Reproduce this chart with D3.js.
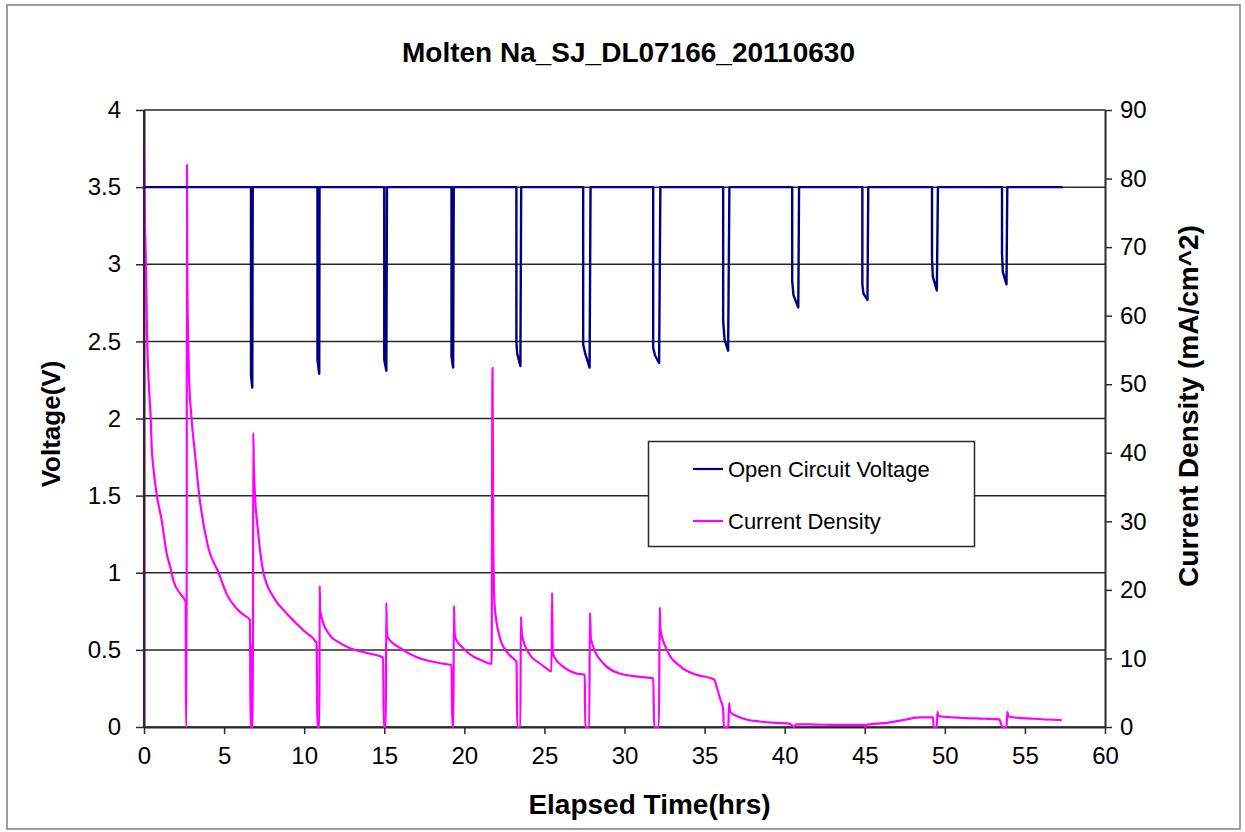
<!DOCTYPE html>
<html>
<head>
<meta charset="utf-8">
<script src="https://cdn.jsdelivr.net/npm/d3@7"></script>
<style>
  html, body { margin: 0; padding: 0; background: #fff; }
  svg { display: block; }
  text { font-family: "Liberation Sans", Arial, sans-serif; fill: #000; }
</style>
</head>
<body>
<svg id="chart" width="1245" height="832"></svg>
<script>
// ---------- DATA ----------
const chartTitle = "Molten Na_SJ_DL07166_20110630";
const xTitle = "Elapsed Time(hrs)";
const yLeftTitle = "Voltage(V)";
const yRightTitle = "Current Density (mA/cm^2)";
const seriesNames = ["Open Circuit Voltage", "Current Density"];

const xTicks = [0, 5, 10, 15, 20, 25, 30, 35, 40, 45, 50, 55, 60];
const yLeftTicks = [0, 0.5, 1, 1.5, 2, 2.5, 3, 3.5, 4];
const yRightTicks = [0, 10, 20, 30, 40, 50, 60, 70, 80, 90];

// Open circuit voltage (V) vs elapsed time (hrs)
const voltageTime = [
  0, 6.68, 6.68, 6.76, 6.79,
  10.83, 10.83, 10.94, 10.96,
  15.0, 15.0, 15.13, 15.17,
  19.2, 19.2, 19.3, 19.34,
  23.25, 23.25, 23.3, 23.5, 23.55,
  27.42, 27.42, 27.55, 27.82, 27.88,
  31.79, 31.79, 31.9, 32.16, 32.24,
  36.16, 36.16, 36.25, 36.47, 36.55,
  40.47, 40.47, 40.55, 40.85, 40.9,
  44.85, 44.85, 44.92, 45.17, 45.22,
  49.2, 49.2, 49.25, 49.5, 49.57,
  53.57, 53.57, 53.62, 53.85, 53.9,
  57.35
];
const voltageValue = [
  3.5, 3.5, 2.28, 2.2, 3.5,
  3.5, 2.38, 2.29, 3.5,
  3.5, 2.38, 2.31, 3.5,
  3.5, 2.40, 2.33, 3.5,
  3.5, 2.50, 2.42, 2.34, 3.5,
  3.5, 2.48, 2.42, 2.33, 3.5,
  3.5, 2.46, 2.41, 2.36, 3.5,
  3.5, 2.63, 2.51, 2.44, 3.5,
  3.5, 2.89, 2.80, 2.72, 3.5,
  3.5, 2.87, 2.81, 2.77, 3.5,
  3.5, 3.03, 2.92, 2.83, 3.5,
  3.5, 3.07, 2.95, 2.87, 3.5,
  3.5
];

// Current density (mA/cm^2) vs elapsed time (hrs)
const currentTime = [
  0, 0, 0.05, 0.12, 0.2, 0.3, 0.42, 0.48, 0.6, 0.8, 1.1, 1.41, 1.72, 1.83, 2.25, 2.56, 2.6,
  2.62, 2.66, 2.68, 2.70, 2.76, 2.82, 2.97, 3.2, 3.45, 4.0, 4.64, 5.2, 5.78, 6.2, 6.62,
  6.65, 6.72, 6.74, 6.76, 6.8, 6.82, 6.86, 6.93, 7.1, 7.45, 8.07, 8.9, 9.95, 10.78,
  10.82, 10.95, 10.97, 11.0, 11.1, 11.6, 12.2, 12.86, 13.9, 14.93,
  14.97, 15.1, 15.13, 15.16, 15.22, 16.0, 17.0, 18.5, 19.2,
  19.25, 19.32, 19.35, 19.4, 19.5, 19.93, 20.55, 21.1, 21.7,
  21.76, 21.8, 21.85, 21.9, 22.2, 22.64, 23.0, 23.26,
  23.3, 23.5, 23.53, 23.6, 24.1, 24.7, 25.1, 25.44,
  25.48, 25.52, 25.6, 26.17, 27.0, 27.52,
  27.55, 27.8, 27.84, 27.9, 28.05, 28.67, 29.7, 30.96, 31.8,
  31.85, 32.15, 32.2, 32.25, 32.6, 33.5, 34.5, 35.4, 35.6, 35.8, 36.0, 36.16,
  36.2, 36.48, 36.53, 36.6, 37.0, 37.6, 38.45, 39.5, 40.3,
  40.6, 40.7, 42.0, 43.5, 45.0,
  45.05, 45.15, 46.35, 47.0, 47.6, 48.4, 49.26,
  49.3, 49.5, 49.54, 49.6, 50.5, 51.3, 52.5, 53.4,
  53.6, 53.85, 53.9, 54.0, 55.5, 57.3
];
const currentValue = [
  0, 85, 75, 67.5, 56.3, 50, 45, 41, 37.5, 33.8, 30.2, 25.4, 22.6, 21.4, 19.5, 18.5, 18.3,
  0, 0, 82, 67.5, 56.3, 50.6, 45, 39.5, 33.8, 26.3, 22.6, 19.2, 17.3, 16.4, 15.6,
  0, 0, 12, 0, 0, 42.9, 38, 33.8, 29, 22.6, 19, 16.6, 14.1, 12.2,
  0, 0, 20.6, 17, 15.9, 13.4, 12.3, 11.5, 10.8, 10.1,
  0, 0, 18.1, 14, 13.1, 11.5, 10.2, 9.3, 9.0,
  0, 0, 17.7, 13.5, 12.7, 11.5, 10.3, 9.7, 9.2,
  52.4, 30, 20.3, 17.5, 13.2, 11.0, 10.1, 9.5,
  0, 0, 16.1, 13.4, 10.5, 9.3, 8.6, 8.1,
  19.6, 11, 10.3, 8.8, 7.8, 7.6,
  0, 0, 16.7, 13, 11.7, 9.3, 7.8, 7.3, 7.1,
  0, 0, 17.5, 14.1, 11.5, 8.8, 7.6, 7.1, 6.9, 5.5, 3.9, 2.7,
  0, 0, 3.5, 2.2, 1.6, 1.1, 0.8, 0.6, 0.5,
  0, 0.4, 0.35, 0.3, 0.3,
  0, 0.35, 0.6, 0.85, 1.1, 1.4, 1.4,
  0, 0, 2.2, 1.6, 1.4, 1.3, 1.2, 1.1,
  0, 0, 2.2, 1.5, 1.2, 1.0
];

const seriesColors = ["#000080", "#FF00FF"];

// ---------- CHART ----------
const svg = d3.select("#chart");
const plot = { left: 144, right: 1105, top: 110, bottom: 727 };

const x = d3.scaleLinear().domain([0, 60]).range([plot.left, plot.right]);
const yL = d3.scaleLinear().domain([0, 4]).range([plot.bottom, plot.top]);
const yR = d3.scaleLinear().domain([0, 90]).range([plot.bottom, plot.top]);

// outer border
svg.append("rect").attr("x", 7).attr("y", 5).attr("width", 1233).attr("height", 824)
  .attr("fill", "#fff").attr("stroke", "#808080").attr("stroke-width", 1.5);

// gridlines
svg.append("g").selectAll("line").data(yLeftTicks).join("line")
  .attr("x1", plot.left).attr("x2", plot.right)
  .attr("y1", d => yL(d)).attr("y2", d => yL(d))
  .attr("stroke", "#2a2a2a").attr("stroke-width", 1.5);

const axisColor = "#2a2a2a";
function styleAxis(g) {
  g.selectAll(".domain").attr("stroke", axisColor).attr("stroke-width", 2);
  g.selectAll(".tick line").attr("stroke", axisColor).attr("stroke-width", 1.5);
  g.selectAll(".tick text").attr("font-size", 24).attr("fill", "#000")
    .attr("font-family", "'Liberation Sans', Arial, sans-serif");
}

const fmt = d => String(d);

svg.append("g").attr("transform", `translate(${plot.left},0)`)
  .call(d3.axisLeft(yL).tickValues(yLeftTicks).tickFormat(fmt).tickSizeInner(8).tickSizeOuter(0).tickPadding(15))
  .call(styleAxis);

svg.append("g").attr("transform", `translate(${plot.right},0)`)
  .call(d3.axisRight(yR).tickValues(yRightTicks).tickFormat(fmt).tickSizeInner(7).tickSizeOuter(0).tickPadding(8))
  .call(styleAxis);

svg.append("g").attr("transform", `translate(0,${plot.bottom})`)
  .call(d3.axisBottom(x).tickValues(xTicks).tickFormat(fmt).tickSizeInner(7).tickSizeOuter(0).tickPadding(13))
  .call(styleAxis);

// series
const vData = voltageTime.map((t, i) => [t, voltageValue[i]]);
const cData = currentTime.map((t, i) => [t, currentValue[i]]);

svg.append("path").datum(cData)
  .attr("d", d3.line().curve(d3.curveMonotoneX).x(d => x(d[0])).y(d => yR(d[1])))
  .attr("fill", "none").attr("stroke", seriesColors[1]).attr("stroke-width", 2.2)
  .attr("stroke-linejoin", "round");

svg.append("path").datum(vData)
  .attr("d", d3.line().x(d => x(d[0])).y(d => yL(d[1])))
  .attr("fill", "none").attr("stroke", seriesColors[0]).attr("stroke-width", 2.4)
  .attr("stroke-linejoin", "round");

// redraw left axis line on top
svg.append("line").attr("x1", plot.left).attr("x2", plot.left).attr("y1", plot.top).attr("y2", plot.bottom)
  .attr("stroke", axisColor).attr("stroke-width", 2);

// legend
const lg = svg.append("g");
lg.append("rect").attr("x", 648.5).attr("y", 441.5).attr("width", 326).attr("height", 105)
  .attr("fill", "#fff").attr("stroke", "#2a2a2a").attr("stroke-width", 1.5);
const legendY = [469, 521];
seriesNames.forEach((name, i) => {
  lg.append("line").attr("x1", 693).attr("x2", 723).attr("y1", legendY[i]).attr("y2", legendY[i])
    .attr("stroke", seriesColors[i]).attr("stroke-width", 2.2);
  lg.append("text").attr("x", 728).attr("y", legendY[i]).attr("dy", "0.35em")
    .attr("font-size", 22).text(name);
});

// titles
svg.append("text").attr("x", 628.5).attr("y", 62).attr("text-anchor", "middle")
  .attr("font-size", 28).attr("font-weight", "bold").text(chartTitle);

svg.append("text").attr("x", 649.5).attr("y", 814).attr("text-anchor", "middle")
  .attr("font-size", 28).attr("font-weight", "bold").text(xTitle);

svg.append("text").attr("transform", "translate(60,424) rotate(-90)").attr("text-anchor", "middle")
  .attr("font-size", 26).attr("font-weight", "bold").text(yLeftTitle);

svg.append("text").attr("transform", "translate(1198,406) rotate(-90)").attr("text-anchor", "middle")
  .attr("font-size", 28).attr("font-weight", "bold").text(yRightTitle);
</script>
</body>
</html>
